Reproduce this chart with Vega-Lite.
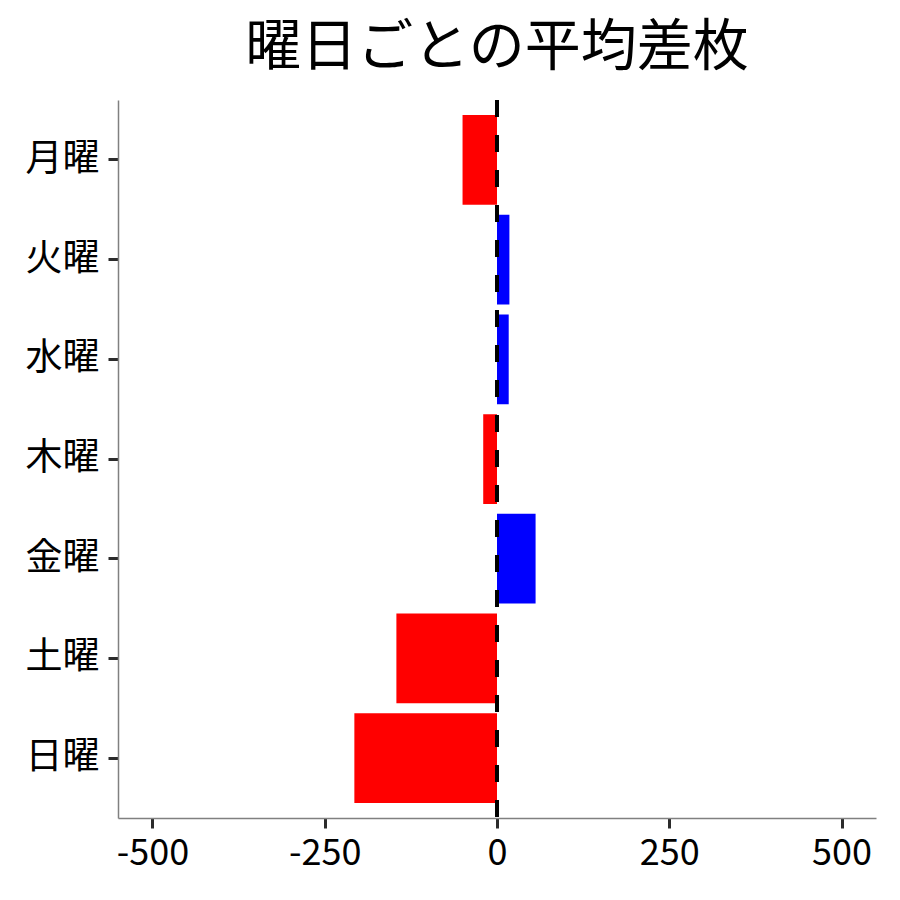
{
  "$schema": "https://vega.github.io/schema/vega-lite/v6.json",
  "autosize": "none",
  "padding": {"left": 118, "top": 100, "right": 24, "bottom": 82},
  "width": 758,
  "height": 718,
  "background": "white",
  "title": {
    "text": "曜日ごとの平均差枚",
    "fontSize": 56,
    "fontWeight": "normal",
    "font": "Noto Sans CJK JP",
    "color": "black",
    "anchor": "middle",
    "lineHeight": 56,
    "offset": 22
  },
  "data": {
    "values": [
      {"day": "月曜", "diff": -50},
      {"day": "火曜", "diff": 18},
      {"day": "水曜", "diff": 17},
      {"day": "木曜", "diff": -20},
      {"day": "金曜", "diff": 56},
      {"day": "土曜", "diff": -146},
      {"day": "日曜", "diff": -207}
    ]
  },
  "layer": [
    {
      "mark": {"type": "bar"},
      "encoding": {
        "y": {
          "field": "day", "type": "nominal",
          "sort": ["月曜", "火曜", "水曜", "木曜", "金曜", "土曜", "日曜"],
          "scale": {"paddingInner": 0.1, "paddingOuter": 0.15},
          "title": null
        },
        "x": {
          "field": "diff", "type": "quantitative",
          "scale": {"domain": [-550, 550], "nice": false, "zero": false},
          "axis": {
            "values": [-500, -250, 0, 250, 500],
            "grid": false,
            "labelExpr": "replace(datum.label, '−', '-')",
            "labelPadding": 8
          },
          "title": null
        },
        "color": {
          "condition": {"test": "datum.diff > 0", "value": "#0000ff"},
          "value": "#ff0000"
        }
      }
    },
    {
      "mark": {"type": "rule", "color": "black", "strokeWidth": 3, "strokeDash": [17, 18]},
      "encoding": {
        "x": {"datum": 0, "type": "quantitative"}
      }
    }
  ],
  "config": {
    "view": {"stroke": null},
    "axis": {
      "labelFont": "Noto Sans CJK JP",
      "labelFontSize": 37,
      "labelColor": "black",
      "domainColor": "#808080",
      "domainWidth": 1.5,
      "tickColor": "#2b2b2b",
      "tickWidth": 3,
      "tickSize": 10,
      "grid": false
    },
    "axisX": {"labelFontSize": 36},
    "axisY": {"labelPadding": 9}
  }
}
